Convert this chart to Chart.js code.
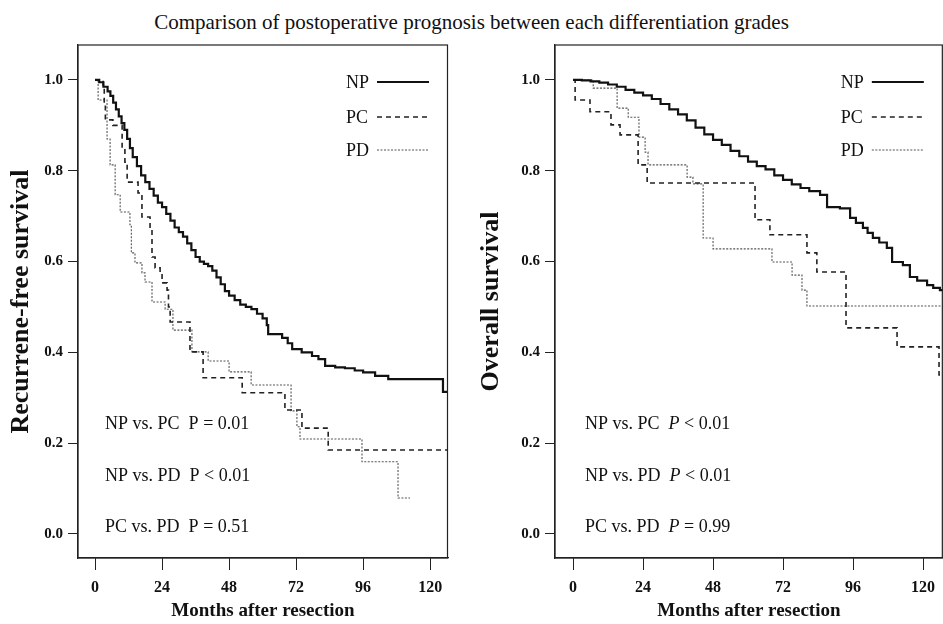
<!DOCTYPE html>
<html lang="en">
<head>
    <meta charset="UTF-8">
    <title>Postoperative prognosis by differentiation grade</title>
    <style>
        body { margin: 0; background: #fff; }
        #wrap { position: relative; width: 943px; height: 624px; overflow: hidden; background: #fff; }
        #mainTitle {
            position: absolute; top: 10px; left: 0; width: 943px; text-align: center;
            font-family: "Liberation Serif", "Times New Roman", serif; font-size: 21px; color: #111;
        }
        #rfsChart { position: absolute; left: 0; top: 0; }
        #osChart { position: absolute; left: 470px; top: 0; }
    </style>
    <script src="https://cdn.jsdelivr.net/npm/chart.js"></script>
</head>
<body>
<div id="wrap">
    <div id="mainTitle">Comparison of postoperative prognosis between each differentiation grades</div>
    <canvas id="rfsChart" width="470" height="624"></canvas>
    <canvas id="osChart" width="473" height="624"></canvas>
</div>
<script>
    // tick values
    const xTicks = [0, 24, 48, 72, 96, 120];
    const yTicks = [0, 0.2, 0.4, 0.6, 0.8, 1.0];
    const groups = ['NP', 'PC', 'PD'];

    // recurrence-free survival, [month, survival]
    const rfsNP = [[0, 1.0], [1.5, 0.995], [3, 0.985], [4.5, 0.975], [5.5, 0.965], [6.5, 0.95], [7.5, 0.935],
        [8.5, 0.92], [9.5, 0.905], [10.5, 0.89], [11.5, 0.87], [12.5, 0.85], [13.5, 0.83], [15, 0.81],
        [16.5, 0.79], [18, 0.775], [19.5, 0.76], [21, 0.745], [22.5, 0.73], [24, 0.72], [25.5, 0.705],
        [27, 0.69], [28.5, 0.675], [30, 0.665], [31.5, 0.655], [33, 0.64], [34.5, 0.625], [36, 0.61],
        [37.5, 0.6], [39, 0.595], [40.5, 0.59], [42, 0.58], [43.5, 0.565], [45, 0.55], [46.5, 0.535],
        [48, 0.525], [50, 0.515], [52, 0.505], [54, 0.5], [56, 0.495], [58, 0.485], [60, 0.475],
        [61.5, 0.46], [62, 0.44], [67, 0.432], [69, 0.42], [70.6, 0.407], [74, 0.4], [77.7, 0.392],
        [80, 0.385], [82.4, 0.37], [86, 0.367], [89.5, 0.365], [93, 0.36], [96, 0.356], [100.3, 0.348],
        [105, 0.341], [124.6, 0.313], [127, 0.313]];
    const rfsPC = [[0, 1.0], [2.9, 0.982], [3.3, 0.945], [3.7, 0.912], [6.4, 0.9], [9.7, 0.846], [10.7, 0.819],
        [11.5, 0.775], [15.4, 0.751], [16.8, 0.698], [19.7, 0.67], [20.4, 0.61], [21.5, 0.586], [23.3, 0.575],
        [24, 0.553], [25.8, 0.537], [26.3, 0.5], [26.9, 0.467], [34, 0.401], [38.7, 0.344], [52.7, 0.311],
        [68, 0.273], [74.1, 0.233], [83.5, 0.185], [127, 0.185]];
    const rfsPD = [[0, 1.0], [1.1, 0.956], [4.3, 0.87], [5.4, 0.813], [7.2, 0.747], [9, 0.709], [12.5, 0.681],
        [13, 0.619], [14.3, 0.597], [16.8, 0.575], [17.9, 0.555], [20.4, 0.511], [25.1, 0.495], [27.9, 0.449],
        [34.7, 0.401], [40.5, 0.381], [48, 0.357], [55.9, 0.328], [70.2, 0.271], [72.3, 0.236], [73.4, 0.209],
        [95.6, 0.159], [108.5, 0.079], [112.8, 0.079]];

    // overall survival, [month, survival]
    const osNP = [[0, 1.0], [3, 0.999], [6, 0.997], [9, 0.994], [12, 0.99], [15, 0.985], [18, 0.978],
        [21, 0.972], [24, 0.966], [27, 0.958], [30, 0.947], [33, 0.935], [36, 0.924], [39, 0.911],
        [42, 0.895], [45, 0.88], [48, 0.868], [51, 0.857], [54, 0.844], [57, 0.832], [60, 0.82], [63, 0.81],
        [66, 0.803], [69, 0.79], [72, 0.78], [75, 0.77], [78, 0.762], [81, 0.755], [84.7, 0.747],
        [87.1, 0.72], [91.5, 0.717], [95, 0.696], [97, 0.685], [99.4, 0.674], [101, 0.663], [102.8, 0.652],
        [105, 0.642], [107.6, 0.63], [109.4, 0.599], [113.1, 0.592], [115.5, 0.566], [118, 0.558],
        [121.4, 0.548], [123.5, 0.542], [125.8, 0.537], [128, 0.537]];
    const osPC = [[0, 1.0], [0.7, 0.956], [5.8, 0.93], [13, 0.901], [16.1, 0.879], [22.3, 0.813], [25.4, 0.773],
        [62.4, 0.692], [67.5, 0.659], [80.2, 0.619], [83.6, 0.577], [93.6, 0.454], [111.1, 0.412],
        [125.5, 0.35], [128, 0.35]];
    const osPD = [[0, 1.0], [6.9, 0.982], [15.1, 0.938], [18.9, 0.918], [22.6, 0.874], [24.7, 0.841],
        [25.7, 0.813], [39.1, 0.786], [41.1, 0.771], [44.6, 0.652], [48, 0.628], [68.2, 0.599], [75.1, 0.57],
        [78.5, 0.537], [80.2, 0.502], [128, 0.502]];

    // log-rank comparisons
    const comparisons = ['NP vs. PC', 'NP vs. PD', 'PC vs. PD'];
    const rfsPvals = ['= 0.01', '< 0.01', '= 0.51'];
    const osPvals = ['< 0.01', '< 0.01', '= 0.99'];

    const serif = '"Liberation Serif", "Times New Roman", serif';
    const lineStyles = {
        NP: { color: '#111', width: 2.2, dash: [] },
        PC: { color: '#222', width: 1.6, dash: [5, 4] },
        PD: { color: '#555', width: 1.1, dash: [2, 1.5] }
    };

    // frame, in-plot legend and p-value notes
    const kmExtras = {
        id: 'kmExtras',
        afterDraw(chart, args, opts) {
            const { ctx, chartArea: a, scales: { x, y } } = chart;
            ctx.save();
            ctx.strokeStyle = '#222';
            ctx.lineWidth = 1.2;
            ctx.setLineDash([]);
            ctx.strokeRect(a.left, a.top, a.right - a.left - 0.5, a.bottom - a.top);

            ctx.fillStyle = '#111';
            ctx.textBaseline = 'middle';
            ctx.font = '18px ' + serif;
            const rows = [38, 73, 106];
            groups.forEach((g, i) => {
                const ly = a.top + rows[i];
                ctx.fillText(g, a.right - 102, ly);
                const s = lineStyles[g];
                ctx.strokeStyle = s.color;
                ctx.lineWidth = s.width;
                ctx.setLineDash(s.dash);
                ctx.beginPath();
                ctx.moveTo(a.right - 71, ly - 1);
                ctx.lineTo(a.right - 19, ly - 1);
                ctx.stroke();
            });

            ctx.setLineDash([]);
            comparisons.forEach((c, i) => {
                let px = x.getPixelForValue(opts.noteX);
                const py = y.getPixelForValue(opts.noteY[i]);
                ctx.font = '18px ' + serif;
                ctx.fillText(c + '  ', px, py);
                px += ctx.measureText(c + '  ').width;
                ctx.font = (opts.italicP ? 'italic ' : '') + '18px ' + serif;
                ctx.fillText('P', px, py);
                px += ctx.measureText('P').width;
                ctx.font = '18px ' + serif;
                ctx.fillText(' ' + opts.pvals[i], px, py);
            });
            ctx.restore();
        }
    };

    function kmDataset(label, points) {
        const s = lineStyles[label];
        return {
            label: label,
            data: points.map(p => ({ x: p[0], y: p[1] })),
            stepped: 'before',
            borderColor: s.color,
            borderWidth: s.width,
            borderDash: s.dash,
            pointRadius: 0,
            fill: false
        };
    }

    function getChartConfig(series, yTitle, xMin, xMax, yAxisWidth, padRight, notes) {
        return {
            type: 'line',
            data: {
                datasets: groups.map((g, i) => kmDataset(g, series[i]))
            },
            options: {
                responsive: false,
                animation: false,
                layout: { padding: { top: 45, right: padRight, left: 0, bottom: 0 } },
                plugins: {
                    legend: { display: false },
                    tooltip: { enabled: false },
                    kmExtras: notes
                },
                scales: {
                    x: {
                        type: 'linear',
                        min: xMin,
                        max: xMax,
                        afterBuildTicks: scale => { scale.ticks = xTicks.map(v => ({ value: v })); },
                        afterFit: scale => { scale.height = 66; },
                        border: { display: true, color: '#222', width: 1.2 },
                        grid: { drawOnChartArea: false, drawTicks: true, tickLength: 12, color: '#222' },
                        ticks: { color: '#111', padding: 8, maxRotation: 0, font: { family: serif, size: 16, weight: 'bold' } },
                        title: {
                            display: true,
                            text: 'Months after resection',
                            color: '#111',
                            padding: { top: 0, bottom: 2 },
                            font: { family: serif, size: 19, weight: 'bold' }
                        }
                    },
                    y: {
                        type: 'linear',
                        min: -0.053,
                        max: 1.077,
                        afterBuildTicks: scale => { scale.ticks = yTicks.map(v => ({ value: v })); },
                        afterFit: scale => { scale.width = yAxisWidth; },
                        border: { display: true, color: '#222', width: 1.2 },
                        grid: { drawOnChartArea: false, drawTicks: true, tickLength: 10, color: '#222' },
                        ticks: {
                            color: '#111', padding: 5,
                            font: { family: serif, size: 15, weight: 'bold' },
                            callback: v => v.toFixed(1)
                        },
                        title: {
                            display: true,
                            text: yTitle,
                            color: '#111',
                            padding: { top: 6, bottom: 0 },
                            font: { family: serif, size: 26, weight: 'bold' }
                        }
                    }
                }
            },
            plugins: [kmExtras]
        };
    }

    const rfsEl = document.getElementById('rfsChart');
    const osEl = document.getElementById('osChart');

    let rfsChart = new Chart(rfsEl, getChartConfig([rfsNP, rfsPC, rfsPD], 'Recurrene-free survival',
        -6.1, 126.4, 78, 22, { noteX: 3.6, noteY: [0.242, 0.126, 0.015], pvals: rfsPvals, italicP: false }));
    let osChart = new Chart(osEl, getChartConfig([osNP, osPC, osPD], 'Overall survival',
        -6.2, 126.8, 85, 0, { noteX: 4.1, noteY: [0.242, 0.126, 0.015], pvals: osPvals, italicP: true }));
</script>
</body>
</html>
